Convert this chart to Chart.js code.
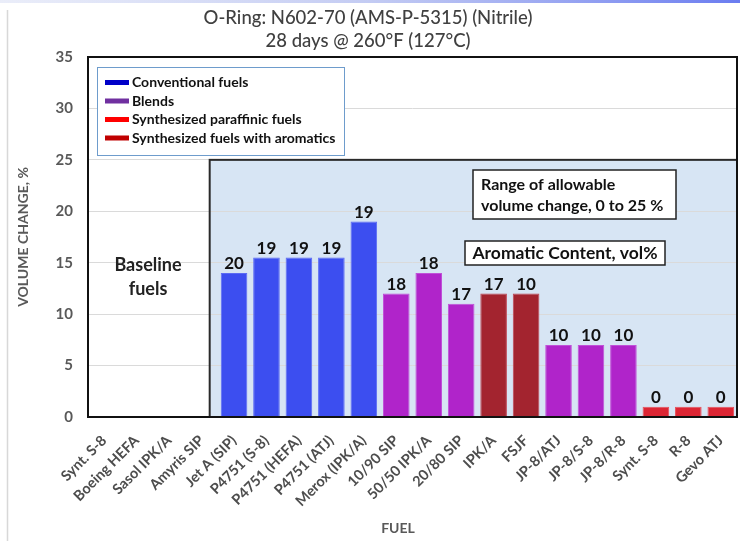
<!DOCTYPE html>
<html>
<head>
<meta charset="utf-8">
<script src="https://cdn.jsdelivr.net/npm/chart.js@4/dist/chart.umd.min.js"></script>
<style>
html,body{margin:0;padding:0;background:#fff;}
#wrap{width:740px;height:541px;position:relative;}
</style>
</head>
<body>
<div id="wrap"><canvas id="c" width="740" height="541"></canvas></div>
<script>
// ---- data ----
const categories = ["Synt. S-8","Boeing HEFA","Sasol IPK/A","Amyris SIP","Jet A (SIP)","P4751 (S-8)","P4751 (HEFA)","P4751 (ATJ)","Merox (IPK/A)","10/90 SIP","50/50 IPK/A","20/80 SIP","IPK/A","FSJF","JP-8/ATJ","JP-8/S-8","JP-8/R-8","Synt. S-8","R-8","Gevo ATJ"];
const volumeChange = [null,null,null,null,14,15.5,15.5,15.5,19,12,14,11,12,12,7,7,7,1,1,1];
const aromaticContent = [null,null,null,null,20,19,19,19,19,18,18,17,17,10,10,10,10,0,0,0];
const fuelGroup = ["base","base","base","base","conv","conv","conv","conv","conv","blend","blend","blend","arom","arom","blend","blend","blend","spk","spk","spk"];
const yTicks = [0,5,10,15,20,25,30,35];
const legendLabels = ["Conventional fuels","Blends","Synthesized paraffinic fuels","Synthesized fuels with aromatics"];
const legendGroups = ["conv","blend","spk","arom"];
const allowableRange = [0,25];
const titleLines = ["O-Ring: N602-70 (AMS-P-5315) (Nitrile)","28 days @ 260°F (127°C)"];

// ---- styles ----
const barColors = {base:"#ffffff",conv:"#3c4ef0",blend:"#b024ca",arom:"#a3242f",spk:"#dc2634"};
const barEdges = {base:"#ffffff",conv:"#5a6af4",blend:"#c050d8",arom:"#c04552",spk:"#e8505a"};
const legendColors = {conv:"#0000c8",blend:"#7030a0",spk:"#ff0000",arom:"#c00000"};
const FONT = "Lato, 'Open Sans', sans-serif";

function boxX0(chart){
  const ca = chart.chartArea;
  const slot = (ca.right - ca.left) / categories.length;
  return ca.left + slot * 3.75;
}

const deco = {
  id:"deco",
  beforeDraw(chart){
    const ctx = chart.ctx, W = chart.width, H = chart.height;
    ctx.save();
    ctx.fillStyle = "#fff"; ctx.fillRect(0,0,W,H);
    const g = ctx.createLinearGradient(0,0,W,0);
    g.addColorStop(0,"rgba(220,225,245,0.6)");
    g.addColorStop(0.5,"rgba(180,190,240,0.8)");
    g.addColorStop(1,"#6a7cf0");
    ctx.fillStyle = g; ctx.fillRect(0,0,W,3);
    ctx.strokeStyle = "#d8d8d8"; ctx.lineWidth = 1.5;
    ctx.beginPath(); ctx.moveTo(7.5,10); ctx.lineTo(7.5,H); ctx.stroke();
    // titles
    ctx.fillStyle = "#404040"; ctx.textAlign = "center"; ctx.textBaseline = "middle";
    ctx.font = "500 18.5px " + FONT;
    ctx.fillText(titleLines[0], 368, 18);
    ctx.fillText(titleLines[1], 368, 41);
    // shaded allowable-range box fill
    const ys = chart.scales.y, ca = chart.chartArea;
    const x0 = boxX0(chart);
    const yTop = ys.getPixelForValue(allowableRange[1]), yBot = ys.getPixelForValue(allowableRange[0]);
    ctx.fillStyle = "#d7e5f4";
    ctx.fillRect(x0, yTop, ca.right - x0, yBot - yTop);
    ctx.restore();
  },
  afterDatasetsDraw(chart){
    const ctx = chart.ctx, ys = chart.scales.y, ca = chart.chartArea;
    ctx.save();
    // shaded box border
    const x0 = boxX0(chart);
    const yTop = ys.getPixelForValue(allowableRange[1]), yBot = ys.getPixelForValue(allowableRange[0]);
    ctx.strokeStyle = "#2a2a2a"; ctx.lineWidth = 2;
    ctx.strokeRect(x0, yTop, ca.right - x0, yBot - yTop);
    // plot frame
    ctx.strokeStyle = "#111"; ctx.lineWidth = 2;
    ctx.strokeRect(ca.left, ca.top, ca.right - ca.left, ca.bottom - ca.top);
    // data labels
    ctx.fillStyle = "#111"; ctx.textAlign = "center"; ctx.textBaseline = "bottom";
    ctx.font = "bold 17px " + FONT;
    const meta = chart.getDatasetMeta(0);
    meta.data.forEach((bar,i)=>{
      if (aromaticContent[i] === null || volumeChange[i] === null) return;
      ctx.fillText(String(aromaticContent[i]), bar.x, bar.y - 1);
    });
    // legend box
    ctx.fillStyle = "#fff"; ctx.fillRect(97,67,247,88);
    ctx.strokeStyle = "#6e9ccc"; ctx.lineWidth = 1;
    ctx.strokeRect(97.5,67.5,247,88);
    ctx.font = "bold 14px " + FONT; ctx.textAlign = "left"; ctx.textBaseline = "middle";
    legendGroups.forEach((gname,k)=>{
      const y = 82.5 + k*18.5;
      ctx.fillStyle = legendColors[gname];
      ctx.fillRect(105, y-2.5, 24, 5);
      ctx.fillStyle = "#111";
      ctx.fillText(legendLabels[k], 132, y);
    });
    // text box: range
    ctx.fillStyle = "#fff"; ctx.fillRect(473,170,203,49);
    ctx.strokeStyle = "#222"; ctx.lineWidth = 1.5; ctx.strokeRect(473,170,203,49);
    ctx.fillStyle = "#111"; ctx.font = "bold 16px " + FONT;
    ctx.fillText("Range of allowable", 481, 185);
    ctx.fillText("volume change, " + allowableRange[0] + " to " + allowableRange[1] + " %", 481, 206);
    // text box: aromatic content
    ctx.fillStyle = "#fff"; ctx.fillRect(465,241,200,24);
    ctx.strokeStyle = "#222"; ctx.strokeRect(465,241,200,24);
    ctx.fillStyle = "#111"; ctx.font = "bold 17.5px " + FONT; ctx.textAlign = "center";
    ctx.fillText("Aromatic Content, vol%", 565, 253);
    // baseline fuels
    ctx.font = "bold 18px " + FONT; ctx.fillStyle = "#222";
    ctx.fillText("Baseline", 148, 265);
    ctx.fillText("fuels", 148, 289);
    // axis titles
    ctx.fillStyle = "#595959"; ctx.font = "bold 14px " + FONT;
    ctx.fillText("FUEL", 398, 528);
    ctx.save(); ctx.translate(23, 237); ctx.rotate(-Math.PI/2);
    ctx.fillText("VOLUME CHANGE, %", 0, 0);
    ctx.restore();
    ctx.restore();
  }
};

new Chart(document.getElementById("c"), {
  type: "bar",
  data: {
    labels: categories,
    datasets: [{
      data: volumeChange,
      backgroundColor: fuelGroup.map(g=>barColors[g]),
      borderColor: fuelGroup.map(g=>barEdges[g]),
      borderWidth: 1,
      categoryPercentage: 1,
      barPercentage: 0.82
    }]
  },
  options: {
    responsive: false,
    animation: false,
    devicePixelRatio: 1,
    layout: { padding: { left: 0, right: 3, top: 57, bottom: 0 } },
    plugins: { legend: { display: false }, title: { display: false }, tooltip: { enabled: false } },
    scales: {
      x: {
        grid: { display: false, drawTicks: false },
        border: { display: false },
        ticks: {
          autoSkip: false, maxRotation: 45, minRotation: 45, padding: 15,
          color: "#4d4d4d", font: { family: FONT, size: 14.5, weight: "bold" }
        },
        afterFit(s){ s.height = 124; s.paddingLeft = 0; s.paddingRight = 0; }
      },
      y: {
        min: 0, max: 35,
        afterBuildTicks(s){ s.ticks = yTicks.map(v=>({value:v})); },
        grid: { color: "#dadada", lineWidth: 1, drawTicks: false },
        border: { display: false },
        ticks: { padding: 15, color: "#595959", font: { family: FONT, size: 15, weight: "bold" } },
        afterFit(s){ s.width = 88; }
      }
    }
  },
  plugins: [deco]
});
</script>
</body>
</html>
